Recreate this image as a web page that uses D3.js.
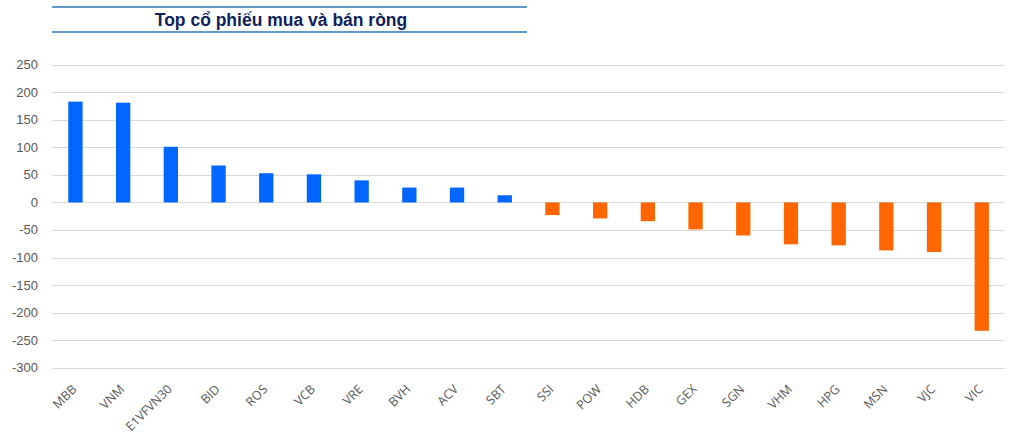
<!DOCTYPE html>
<html><head><meta charset="utf-8">
<script src="https://cdn.jsdelivr.net/npm/d3@7"></script>
<style>body{margin:0;background:#fff}svg{display:block}</style>
</head><body>
<svg id="c" width="1021" height="439"></svg>
<script>
const categories = ["MBB","VNM","E1VFVN30","BID","ROS","VCB","VRE","BVH","ACV","SBT","SSI","POW","HDB","GEX","SGN","VHM","HPG","MSN","VJC","VIC"];
const values = [183,181,101,67,53,51,40,27,27,13,-23,-29,-34,-49,-60,-76,-78,-87,-90,-233];
const yTicks = [250,200,150,100,50,0,-50,-100,-150,-200,-250,-300];
const title = "Top cổ phiếu mua và bán ròng";

const svg = d3.select("#c");
const x = d3.scaleBand().domain(categories).range([51.6,1005.6]).paddingInner(0.7).paddingOuter(0.35);
const y = d3.scaleLinear().domain([-300,250]).range([367.7,64.7]);

svg.append("g").selectAll("line").data(yTicks).join("line")
  .attr("x1",52).attr("x2",1005)
  .attr("y1",d=>Math.round(y(d))+0.5).attr("y2",d=>Math.round(y(d))+0.5)
  .attr("stroke","#d9d9d9").attr("stroke-width",1);

svg.append("g").selectAll("text").data(yTicks).join("text")
  .attr("x",38).attr("y",d=>y(d)+4.5).attr("text-anchor","end")
  .attr("font-family","Liberation Sans, Arial, sans-serif").attr("font-size",13)
  .attr("fill","#595959").text(d=>d);

svg.append("g").selectAll("rect").data(categories).join("rect")
  .attr("x",(d)=>x(d)).attr("width",x.bandwidth())
  .attr("y",(d,i)=>y(Math.max(0,values[i])))
  .attr("height",(d,i)=>Math.abs(y(values[i])-y(0)))
  .attr("fill",(d,i)=>values[i]>=0?"#0066ff":"#ff6600");

svg.append("g").selectAll("text").data(categories).join("text")
  .attr("transform",d=>`translate(${x(d)+x.bandwidth()/2+2},390) rotate(-45)`)
  .attr("text-anchor","end")
  .attr("font-family","Open Sans, sans-serif").attr("font-size",12.5)
  .attr("fill","#595959").text(d=>d);

svg.append("line").attr("x1",52).attr("x2",527).attr("y1",7).attr("y2",7).attr("stroke","#2e75b6").attr("stroke-width",1.5);
svg.append("line").attr("x1",52).attr("x2",527).attr("y1",32).attr("y2",32).attr("stroke","#2e75b6").attr("stroke-width",1.5);
svg.append("text").attr("x",281).attr("y",26).attr("text-anchor","middle")
  .attr("font-family","Liberation Sans, Arial, sans-serif").attr("font-weight","bold").attr("font-size",17.5)
  .attr("fill","#0f1f5a").text(title);
</script>
</body></html>
